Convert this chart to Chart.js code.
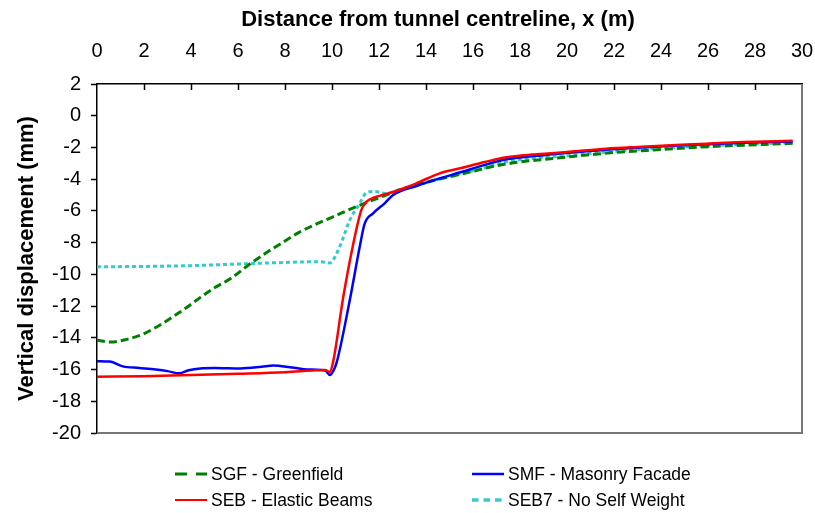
<!DOCTYPE html>
<html>
<head>
<meta charset="utf-8">
<script src="https://cdn.jsdelivr.net/npm/chart.js@4.4.1/dist/chart.umd.min.js"></script>
<style>
  html, body { margin: 0; padding: 0; background: #fff; }
  #wrap { position: relative; width: 815px; height: 513px; font-family: "Liberation Sans", Arial, sans-serif; color: #000; }
  #chart { position: absolute; left: 0; top: 0; }
  .xtitle { position: absolute; left: 0; width: 876px; top: 6px; text-align: center; font-weight: bold; font-size: 22px; line-height: 26px; }
  .key { position: absolute; display: flex; align-items: center; font-size: 17.5px; white-space: nowrap; }
  .key svg { margin-right: 4px; }
</style>
</head>
<body>
<div id="wrap">
  <canvas id="chart" width="815" height="513"></canvas>
  <div class="xtitle">Distance from tunnel centreline, x (m)</div>
  <div id="legend"></div>
</div>
<script>
// settlement profiles, x in m from the tunnel centreline, displacement in mm
const sgfX = [0, 0.6, 1.2, 1.9, 2.5, 3.1, 3.8, 4.4, 5.0, 5.7, 6.5, 7.4, 8.0, 8.6, 9.3, 10.0, 11.0, 12.0, 12.9, 14.0, 15.0, 16.0, 17.0, 18.0, 19.0, 20.0, 22.0, 24.0, 26.0, 28.0, 29.6];
const sgfY = [-14.15, -14.27, -14.12, -13.8, -13.35, -12.8, -12.1, -11.45, -10.85, -10.25, -9.35, -8.45, -7.9, -7.35, -6.85, -6.4, -5.75, -5.17, -4.68, -4.2, -3.85, -3.5, -3.15, -2.91, -2.76, -2.6, -2.32, -2.13, -1.95, -1.83, -1.74];

const smfX = [0, 0.55, 1.1, 1.8, 2.5, 3.0, 3.5, 3.9, 4.4, 5.0, 6.1, 7.0, 7.5, 8.2, 8.8, 9.5, 9.75, 9.91, 10.05, 10.19, 10.76, 11.18, 11.39, 11.75, 12.24, 12.6, 13.59, 14.58, 15.5, 16.5, 17.42, 18.5, 19.5, 20.5, 21.67, 23.0, 24.5, 25.92, 27.5, 29.6];
const smfY = [-15.47, -15.5, -15.8, -15.9, -16.0, -16.1, -16.24, -16.05, -15.93, -15.9, -15.93, -15.83, -15.75, -15.85, -15.98, -16.03, -16.1, -16.35, -16.1, -15.6, -11.6, -8.26, -6.8, -6.15, -5.52, -5.0, -4.43, -3.95, -3.55, -3.1, -2.75, -2.55, -2.42, -2.28, -2.14, -2.02, -1.9, -1.8, -1.7, -1.62];

const sebX = [0, 2, 4, 6, 8, 9.3, 9.7, 9.9, 10.05, 10.46, 10.88, 11.25, 11.47, 11.8, 12.16, 13.0, 13.59, 14.58, 15.5, 16.5, 17.42, 18.5, 19.5, 20.5, 21.67, 23.0, 24.5, 25.92, 27.5, 29.6];
const sebY = [-16.45, -16.42, -16.35, -16.27, -16.17, -16.05, -16.03, -16.15, -15.5, -11.6, -8.26, -5.94, -5.42, -5.15, -5.0, -4.6, -4.26, -3.63, -3.3, -2.92, -2.62, -2.45, -2.35, -2.22, -2.08, -1.97, -1.86, -1.76, -1.66, -1.58];

const seb7X = [0, 2, 4, 6, 8, 9.5, 9.9, 10.33, 10.76, 11.18, 11.47, 11.82, 12.32, 12.88, 13.59, 14.58, 15.5, 16.5, 17.42, 18.5, 19.5, 20.5, 21.67, 23.0, 24.5, 25.92, 27.5, 29.6];
const seb7Y = [-9.52, -9.5, -9.45, -9.35, -9.25, -9.2, -9.28, -8.25, -6.57, -5.52, -4.85, -4.78, -4.9, -4.65, -4.4, -3.98, -3.65, -3.28, -2.9, -2.7, -2.58, -2.45, -2.3, -2.15, -2.02, -1.9, -1.8, -1.7];

const xTicks = [0, 2, 4, 6, 8, 10, 12, 14, 16, 18, 20, 22, 24, 26, 28, 30];
const yTicks = [2, 0, -2, -4, -6, -8, -10, -12, -14, -16, -18, -20];

const series = [
  { label: "SGF - Greenfield", xs: sgfX, ys: sgfY, color: "#008000", width: 3, dash: [8, 4], order: 2, key: "12 9", keyWidth: 3 },
  { label: "SMF - Masonry Facade", xs: smfX, ys: smfY, color: "#0000ff", width: 2.5, dash: [], order: 1, key: "", keyWidth: 2.5 },
  { label: "SEB - Elastic Beams", xs: sebX, ys: sebY, color: "#ff0000", width: 2.5, dash: [], order: 0, key: "", keyWidth: 2 },
  { label: "SEB7 - No Self Weight", xs: seb7X, ys: seb7Y, color: "#33cccc", width: 3, dash: [4, 3], order: 3, key: "6.5 5", keyWidth: 3.5 }
];

const pts = (xs, ys) => xs.map((x, i) => ({ x, y: ys[i] }));

// frame: inward ticks along the top axis, grey right/bottom edges
const frame = {
  id: "frame",
  afterDraw(chart) {
    const { ctx, chartArea: a, scales } = chart;
    ctx.save();
    ctx.strokeStyle = "#000";
    ctx.lineWidth = 1.5;
    xTicks.slice(1, -1).forEach((v) => {
      const px = Math.round(scales.x.getPixelForValue(v)) + 0.5;
      ctx.beginPath();
      ctx.moveTo(px, a.top);
      ctx.lineTo(px, a.top + 6);
      ctx.stroke();
    });
    ctx.strokeStyle = "#777";
    ctx.lineWidth = 2;
    ctx.beginPath();
    ctx.moveTo(a.left, a.bottom);
    ctx.lineTo(a.right, a.bottom);
    ctx.lineTo(a.right, a.top);
    ctx.stroke();
    ctx.restore();
  }
};

new Chart(document.getElementById("chart"), {
  type: "line",
  data: {
    datasets: series.map((s) => ({
      label: s.label,
      data: pts(s.xs, s.ys),
      borderColor: s.color,
      borderWidth: s.width,
      borderDash: s.dash,
      pointRadius: 0,
      fill: false,
      cubicInterpolationMode: "monotone",
      order: s.order
    }))
  },
  options: {
    responsive: false,
    animation: false,
    layout: { padding: { left: 0, top: 0, right: 13, bottom: 80 } },
    plugins: { legend: { display: false }, tooltip: { enabled: false } },
    scales: {
      x: {
        type: "linear",
        position: "top",
        min: 0,
        max: 30,
        afterFit: (s) => { s.height = 84; s.paddingLeft = 0; s.paddingRight = 0; },
        afterBuildTicks: (s) => { s.ticks = xTicks.map((v) => ({ value: v })); },
        ticks: { color: "#000", font: { family: "Liberation Sans", size: 20 }, padding: 21, maxRotation: 0 },
        grid: { display: true, drawOnChartArea: false, drawTicks: false },
        border: { display: true, color: "#000", width: 1.5 }
      },
      y: {
        type: "linear",
        min: -20,
        max: 2,
        afterFit: (s) => { s.width = 97; s.paddingTop = 0; s.paddingBottom = 0; },
        afterBuildTicks: (s) => { s.ticks = yTicks.map((v) => ({ value: v })); },
        ticks: { color: "#000", font: { family: "Liberation Sans", size: 20 }, padding: 10 },
        grid: { display: true, drawOnChartArea: false, drawTicks: true, tickLength: 6, color: "#000", tickWidth: 1.5 },
        border: { display: true, color: "#000", width: 1.5 },
        title: {
          display: true,
          text: "Vertical displacement (mm)",
          color: "#000",
          font: { family: "Liberation Sans", size: 22, weight: "bold" },
          padding: { top: 14, bottom: 0 }
        }
      }
    }
  },
  plugins: [frame]
});

// two-column key under the plot
const legend = document.getElementById("legend");
const keyPos = [[175, 474], [472, 474], [175, 500], [472, 500]];
series.forEach((s, i) => {
  const [left, cy] = keyPos[i];
  const item = document.createElement("div");
  item.className = "key";
  item.style.left = left + "px";
  item.style.top = (cy - 11) + "px";
  item.style.height = "22px";
  item.innerHTML = `<svg width="32" height="8"><line x1="0" y1="4" x2="32" y2="4" stroke="${s.color}" stroke-width="${s.keyWidth}" stroke-dasharray="${s.key}"/></svg><span>${s.label}</span>`;
  legend.appendChild(item);
});
</script>
</body>
</html>
